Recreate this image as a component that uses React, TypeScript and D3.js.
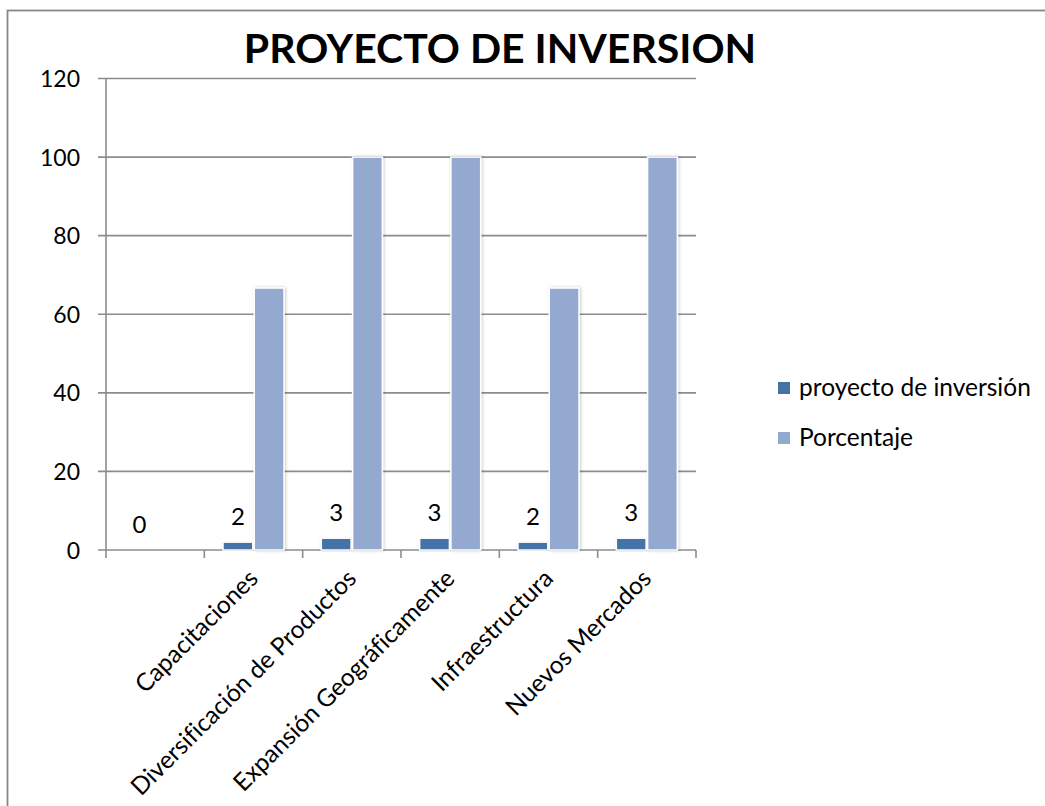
import React from "react";
import * as d3 from "d3";

const categories: string[] = [
  "",
  "Capacitaciones",
  "Diversificación de Productos",
  "Expansión Geográficamente",
  "Infraestructura",
  "Nuevos Mercados",
];
const proyectoValues: number[] = [0, 2, 3, 3, 2, 3];
const porcentajeValues: (number | null)[] = [null, 66.67, 100, 100, 66.67, 100];
const seriesNames: string[] = ["proyecto de inversión", "Porcentaje"];
const seriesColors: string[] = ["#4572A7", "#93A9CF"];
const yTicks: number[] = [0, 20, 40, 60, 80, 100, 120];
const title = "PROYECTO DE INVERSION";

const W = 1045;
const H = 806;
const plot = { left: 106, right: 696, top: 78.5, bottom: 550 };
const FONT = "Lato, 'Open Sans', sans-serif";
const FS = 24;

export default function App() {
  const x = d3.scaleBand<string>().domain(categories.map((c, i) => String(i))).range([plot.left, plot.right]).padding(0);
  const bw = x.bandwidth();
  const x1 = d3.scaleBand<string>().domain(seriesNames).range([bw * 0.182, bw * 0.818]).padding(0);
  const y = d3.scaleLinear().domain([0, 120]).range([plot.bottom, plot.top]);
  const grid = "#8C8C8C";

  const boundaries = d3.range(categories.length + 1).map((i) =>
    i < categories.length ? (x(String(i)) as number) : plot.right
  );

  const series = [proyectoValues, porcentajeValues];

  return (
    <svg
      width={W}
      height={H}
      style={{ position: "absolute", left: 0, top: 0, background: "#fff", fontVariantLigatures: "none" }}
      fontFamily={FONT}
    >
      <defs>
        <filter id="sh" x="-30%" y="-10%" width="160%" height="120%">
          <feDropShadow dx="1" dy="0" stdDeviation="1.6" floodColor="#000" floodOpacity="0.22" />
        </filter>
      </defs>
      <rect x={7.5} y={10.5} width={W + 10} height={H + 10} fill="none" stroke="#888" strokeWidth={1.8} />

      <text x={500} y={63} textAnchor="middle" fontSize={41} fontWeight="bold" fill="#000">
        {title}
      </text>

      {/* gridlines */}
      {yTicks.map((t) => (
        <g key={t}>
          <line x1={plot.left - 8} x2={plot.right} y1={y(t)} y2={y(t)} stroke={grid} strokeWidth={1.6} />
          <text x={80} y={y(t) + 8.5} textAnchor="end" fontSize={FS - 1} fill="#000">
            {t}
          </text>
        </g>
      ))}
      {/* y axis */}
      <line x1={plot.left} x2={plot.left} y1={plot.top} y2={plot.bottom} stroke={grid} strokeWidth={1.6} />
      {/* x ticks */}
      {boundaries.map((b, i) => (
        <line key={i} x1={b} x2={b} y1={plot.bottom} y2={plot.bottom + 8} stroke={grid} strokeWidth={1.6} />
      ))}

      {/* bars */}
      {categories.map((c, i) => (
        <g key={i} transform={`translate(${x(String(i))},0)`}>
          {series.map((s, si) => {
            const v = s[i];
            if (v === null || v === undefined) return null;
            const bx = x1(seriesNames[si]) as number;
            const bwid = x1.bandwidth();
            return (
              <rect
                key={si}
                x={bx + 0.75}
                y={y(v)}
                width={bwid - 1.5}
                height={plot.bottom - y(v)}
                fill={seriesColors[si]}
                stroke="#fff"
                strokeWidth={1.5}
                filter={v > 0 ? "url(#sh)" : undefined}
              />
            );
          })}
          <text
            x={(x1(seriesNames[0]) as number) + x1.bandwidth() / 2}
            y={y(proyectoValues[i]) - 17}
            textAnchor="middle"
            fontSize={FS}
            fill="#000"
          >
            {proyectoValues[i]}
          </text>
        </g>
      ))}

      {/* x labels */}
      {categories.map((c, i) => {
        const cx = (x(String(i)) as number) + bw / 2 + 6;
        const cy = 580;
        return (
          <text key={i} x={cx} y={cy} transform={`rotate(-45 ${cx} ${cy})`} textAnchor="end" fontSize={FS + 0.5} fill="#000">
            {c}
          </text>
        );
      })}

      {/* legend */}
      {seriesNames.map((n, i) => (
        <g key={n} transform={`translate(778, ${382 + i * 50})`}>
          <rect x={0} y={0} width={12} height={12} fill={seriesColors[i]} />
          <text x={21} y={14} fontSize={FS + 0.5} fill="#000">
            {n}
          </text>
        </g>
      ))}
    </svg>
  );
}
